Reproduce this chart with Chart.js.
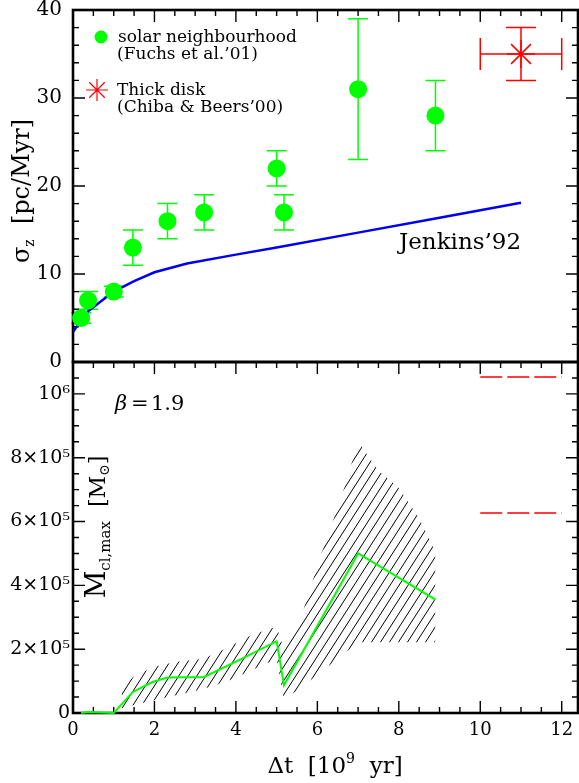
<!DOCTYPE html>
<html lang="en">
<head>
  <meta charset="utf-8" />
  <title>sigma_z and M_cl,max vs age</title>
  <style>
    body { margin: 0; background: #fff; }
    #wrap { position: relative; width: 579px; height: 783px; overflow: hidden; }
    #wrap canvas { position: absolute; left: 0; }
    #top { top: -8px; }
    #bottom { top: 352px; }
  </style>
</head>
<body>
  <div id="wrap">
    <canvas id="top" width="579" height="388"></canvas>
    <canvas id="bottom" width="579" height="431"></canvas>
  </div>

  <script src="https://cdn.jsdelivr.net/npm/chart.js"></script>

  <script>
    // top panel: vertical velocity dispersion vs age
    const solarAge = [0.2, 0.37, 1.0, 1.47, 2.32, 3.22, 5.0, 5.18, 7.0, 8.9];
    const solarSigma = [5, 7, 8, 13, 16, 17, 22, 17, 31, 28];
    const solarSigmaErr = [0.6, 1, 0.6, 2, 2, 2, 2, 2, 8, 4];

    const thickAge = [11];
    const thickSigma = [35];
    const thickAgeErr = [1];
    const thickSigmaErr = [3];

    const jenkinsAge = [0, 0.3, 0.6, 1.0, 1.5, 2.0, 2.8, 4.0, 5.0, 7.0, 9.0, 11.0];
    const jenkinsSigma = [3.4, 5.5, 6.6, 8.0, 9.2, 10.2, 11.2, 12.2, 13.0, 14.7, 16.4, 18.1];

    // bottom panel: maximum cluster mass vs age
    const massAge = [0.2, 0.37, 1.0, 1.47, 1.95, 2.32, 3.22, 4.1, 5.0, 5.18, 7.0, 8.9];
    const massMax = [0, 3e3, 0, 6.6e4, 9.7e4, 1.11e5, 1.13e5, 1.67e5, 2.25e5, 8.7e4, 5.0e5, 3.55e5];

    const bandAge  = [1.2, 1.5, 2.0, 2.5, 3.2, 3.8, 4.4, 5.0, 5.18, 5.6, 6.1, 6.6, 7.0, 7.5, 8.0, 8.5, 8.9];
    const bandLow  = [1.5e4, 2.5e4, 4e4, 5.5e4, 7.5e4, 1.0e5, 1.35e5, 1.7e5, 4e4, 8e4, 1.29e5, 1.8e5, 2.22e5, 2.22e5, 2.22e5, 2.22e5, 2.22e5];
    const bandHigh = [8e4, 1.15e5, 1.45e5, 1.6e5, 1.7e5, 2.05e5, 2.45e5, 2.7e5, 2.0e5, 3.0e5, 5.0e5, 6.8e5, 8.5e5, 7.6e5, 7.05e5, 6.1e5, 5.05e5];

    const limitAge = [10, 12];
    const limitMass = [1.053e6, 6.27e5];

    const GREEN = '#00ff00';
    const RED = '#ff0000';
    const BLUE = '#0000ee';
    const FONT = '"DejaVu Serif", serif';
    const TOP_SHIFT = 8; // top canvas sits 8px above the page

    const pts = (xs, ys) => xs.map((v, i) => ({ x: v, y: ys[i] }));
    const isMajor = (v, step) => Math.abs(v / step - Math.round(v / step)) < 1e-6;

    // draw a row of text pieces centred on cx, optionally rotated for y titles
    function richText(ctx, parts, cx, cy, rotate) {
      ctx.save();
      ctx.translate(cx, cy);
      if (rotate) ctx.rotate(-Math.PI / 2);
      ctx.fillStyle = '#000';
      ctx.textBaseline = 'alphabetic';
      const fontOf = p => (p.italic ? 'italic ' : '') + p.size + 'px ' + FONT;
      let total = 0;
      const widths = parts.map(p => {
        ctx.font = fontOf(p);
        const w = ctx.measureText(p.t).width;
        total += w;
        return w;
      });
      let x = -total / 2;
      parts.forEach((p, i) => {
        ctx.font = fontOf(p);
        ctx.fillText(p.t, x, p.dy || 0);
        x += widths[i];
      });
      ctx.restore();
    }

    function drawStar(ctx, x, y, r, color, lw) {
      ctx.save();
      ctx.strokeStyle = color;
      ctx.lineWidth = lw;
      ctx.beginPath();
      for (let k = 0; k < 4; k++) {
        const a = k * Math.PI / 4;
        ctx.moveTo(x - Math.cos(a) * r, y - Math.sin(a) * r);
        ctx.lineTo(x + Math.cos(a) * r, y + Math.sin(a) * r);
      }
      ctx.stroke();
      ctx.restore();
    }

    // inward ticks on every side + heavy frame (under the data)
    const frameTicks = {
      id: 'frameTicks',
      beforeDatasetsDraw(chart, args, opts) {
        const { ctx, chartArea: a, scales: { x, y } } = chart;
        ctx.save();
        ctx.strokeStyle = '#000';
        ctx.lineWidth = 1.4;
        ctx.beginPath();
        for (const t of x.ticks) {
          const px = x.getPixelForValue(t.value);
          const len = isMajor(t.value, 2) ? 12 : 6;
          ctx.moveTo(px, a.top); ctx.lineTo(px, a.top + len);
          if (opts.xBottom) { ctx.moveTo(px, a.bottom); ctx.lineTo(px, a.bottom - len); }
        }
        for (const t of y.ticks) {
          const py = y.getPixelForValue(t.value);
          const len = isMajor(t.value, opts.yMajor) ? 12 : 6;
          ctx.moveTo(a.left, py); ctx.lineTo(a.left + len, py);
          ctx.moveTo(a.right, py); ctx.lineTo(a.right - len, py);
        }
        ctx.stroke();
        ctx.lineWidth = 2.6;
        ctx.strokeRect(a.left, a.top, a.right - a.left, a.bottom - a.top);
        ctx.restore();
      }
    };

    // error bars for the top panel
    const errorBars = {
      id: 'errorBars',
      beforeDatasetsDraw(chart) {
        const { ctx, scales: { x, y } } = chart;
        ctx.save();
        ctx.lineWidth = 1.5;
        ctx.strokeStyle = GREEN;
        ctx.beginPath();
        solarAge.forEach((a, i) => {
          const px = x.getPixelForValue(a);
          const lo = y.getPixelForValue(solarSigma[i] - solarSigmaErr[i]);
          const hi = y.getPixelForValue(solarSigma[i] + solarSigmaErr[i]);
          ctx.moveTo(px, lo); ctx.lineTo(px, hi);
          ctx.moveTo(px - 10, lo); ctx.lineTo(px + 10, lo);
          ctx.moveTo(px - 10, hi); ctx.lineTo(px + 10, hi);
        });
        ctx.stroke();
        ctx.strokeStyle = RED;
        ctx.beginPath();
        thickAge.forEach((a, i) => {
          const px = x.getPixelForValue(a);
          const py = y.getPixelForValue(thickSigma[i]);
          const l = x.getPixelForValue(a - thickAgeErr[i]);
          const r = x.getPixelForValue(a + thickAgeErr[i]);
          const lo = y.getPixelForValue(thickSigma[i] - thickSigmaErr[i]);
          const hi = y.getPixelForValue(thickSigma[i] + thickSigmaErr[i]);
          ctx.moveTo(l, py); ctx.lineTo(r, py);
          ctx.moveTo(l, py - 16); ctx.lineTo(l, py + 16);
          ctx.moveTo(r, py - 16); ctx.lineTo(r, py + 16);
          ctx.moveTo(px, lo); ctx.lineTo(px, hi);
          ctx.moveTo(px - 15, lo); ctx.lineTo(px + 15, lo);
          ctx.moveTo(px - 15, hi); ctx.lineTo(px + 15, hi);
        });
        ctx.stroke();
        ctx.restore();
      }
    };

    const topNotes = {
      id: 'topNotes',
      afterDraw(chart) {
        const ctx = chart.ctx;
        ctx.save();
        ctx.translate(0, TOP_SHIFT);
        ctx.fillStyle = GREEN;
        ctx.beginPath(); ctx.arc(101, 37, 6.5, 0, Math.PI * 2); ctx.fill();
        drawStar(ctx, 97, 90, 11, RED, 1.2);
        ctx.fillStyle = '#000';
        ctx.font = '17px ' + FONT;
        ctx.fillText('solar neighbourhood', 118, 42);
        ctx.fillText('(Fuchs et al.’01)', 117, 59);
        ctx.fillText('Thick disk', 117, 95);
        ctx.fillText('(Chiba & Beers’00)', 117, 112);
        ctx.font = '23px ' + FONT;
        ctx.fillText('Jenkins’92', 399, 249);
        richText(ctx, [
          { t: 'σ', size: 24 },
          { t: 'z', size: 14, dy: 5 },
          { t: '  [pc/Myr]', size: 24 }
        ], 29, 191, true);
        ctx.restore();
      }
    };

    const bottomNotes = {
      id: 'bottomNotes',
      afterDraw(chart) {
        const ctx = chart.ctx;
        ctx.save();
        ctx.fillStyle = '#000';
        ctx.font = 'italic 21px ' + FONT;
        ctx.fillText('β', 115, 58);
        ctx.font = '21px ' + FONT;
        ctx.fillText('=', 131, 58);
        ctx.fillText('1.9', 151, 58);
        ctx.restore();
        richText(ctx, [
          { t: 'M', size: 27 },
          { t: 'cl,max', size: 15, dy: 5 },
          { t: '  [M', size: 22 },
          { t: '⊙', size: 14, dy: 4 },
          { t: ']', size: 22 }
        ], 105, 175, true);
        richText(ctx, [
          { t: 'Δt', size: 23 },
          { t: '  [10', size: 23 },
          { t: '9', size: 14, dy: -10 },
          { t: '  yr]', size: 23 }
        ], 335, 421, false);
      }
    };

    function hatchPattern(ctx) {
      const c = document.createElement('canvas');
      c.width = 9; c.height = 14;
      const g = c.getContext('2d');
      g.strokeStyle = '#000';
      g.lineWidth = 1;
      g.beginPath();
      g.moveTo(-9, 14); g.lineTo(0, 0);
      g.moveTo(0, 14); g.lineTo(9, 0);
      g.moveTo(9, 14); g.lineTo(18, 0);
      g.stroke();
      return ctx.createPattern(c, 'repeat');
    }

    const xAxisBase = {
      type: 'linear',
      min: 0,
      max: 12.4,
      grid: { display: false },
      border: { display: false },
      ticks: { stepSize: 0.5, includeBounds: false, autoSkip: false, maxRotation: 0 }
    };

    // top panel
    new Chart(document.getElementById('top'), {
      type: 'scatter',
      data: {
        datasets: [
          {
            label: 'solar neighbourhood (Fuchs et al.’01)',
            data: pts(solarAge, solarSigma),
            pointRadius: 9,
            backgroundColor: GREEN,
            borderWidth: 0,
            clip: false
          },
          {
            label: 'Thick disk (Chiba & Beers’00)',
            data: pts(thickAge, thickSigma),
            pointStyle: 'star',
            pointRadius: 14,
            borderColor: RED,
            borderWidth: 1.5,
            clip: false
          },
          {
            label: 'Jenkins’92',
            data: pts(jenkinsAge, jenkinsSigma),
            showLine: true,
            borderColor: BLUE,
            borderWidth: 2.5,
            pointRadius: 0
          }
        ]
      },
      options: {
        responsive: false,
        animation: false,
        layout: { autoPadding: false, padding: { top: 18, right: 1, bottom: 18, left: 0 } },
        plugins: {
          legend: { display: false },
          tooltip: { enabled: false },
          frameTicks: { xBottom: false, yMajor: 10 }
        },
        scales: {
          x: Object.assign({}, xAxisBase, {
            ticks: Object.assign({}, xAxisBase.ticks, { display: false }),
            afterFit: s => { s.height = 0; }
          }),
          y: {
            min: 0,
            max: 40,
            grid: { display: false, drawTicks: false },
            border: { display: false },
            ticks: {
              stepSize: 2,
              autoSkip: false,
              padding: 11,
              color: '#000',
              font: { family: FONT, size: 20, lineHeight: 0.7 },
              callback: v => isMajor(v, 10) ? String(v) : ''
            },
            afterFit: s => { s.width = 73; }
          }
        }
      },
      plugins: [errorBars, frameTicks, topNotes]
    });

    // bottom panel
    const bottomCanvas = document.getElementById('bottom');
    const hatch = hatchPattern(bottomCanvas.getContext('2d'));
    const supLabel = { 200000: '2×10⁵', 400000: '4×10⁵', 600000: '6×10⁵', 800000: '8×10⁵', 1000000: '10⁶' };

    new Chart(bottomCanvas, {
      type: 'scatter',
      data: {
        datasets: [
          {
            label: 'M_cl,max',
            data: pts(massAge, massMax),
            showLine: true,
            borderColor: GREEN,
            borderWidth: 2,
            pointRadius: 0,
            clip: false
          },
          {
            label: 'range low',
            data: pts(bandAge, bandLow),
            showLine: true,
            borderColor: 'rgba(0,0,0,0)',
            borderWidth: 1,
            pointRadius: 0,
            fill: false
          },
          {
            label: 'range high',
            data: pts(bandAge, bandHigh),
            showLine: true,
            borderColor: 'rgba(0,0,0,0)',
            borderWidth: 1,
            pointRadius: 0,
            backgroundColor: hatch,
            fill: '-1'
          },
          {
            label: 'limit upper',
            data: limitAge.map(a => ({ x: a, y: limitMass[0] })),
            showLine: true,
            borderColor: RED,
            borderWidth: 1.5,
            borderDash: [22, 5],
            pointRadius: 0
          },
          {
            label: 'limit lower',
            data: limitAge.map(a => ({ x: a, y: limitMass[1] })),
            showLine: true,
            borderColor: RED,
            borderWidth: 1.5,
            borderDash: [22, 5],
            pointRadius: 0
          }
        ]
      },
      options: {
        responsive: false,
        animation: false,
        layout: { autoPadding: false, padding: { top: 10, right: 1, bottom: 0, left: 0 } },
        plugins: {
          legend: { display: false },
          tooltip: { enabled: false },
          frameTicks: { xBottom: true, yMajor: 200000 }
        },
        scales: {
          x: Object.assign({}, xAxisBase, {
            grid: { display: false, drawTicks: true, tickLength: 7 },
            ticks: Object.assign({}, xAxisBase.ticks, {
              padding: 4,
              color: '#000',
              font: { family: FONT, size: 18, lineHeight: 0.7 },
              callback: v => isMajor(v, 2) ? String(v) : ''
            }),
            afterFit: s => { s.height = 70; }
          }),
          y: {
            min: 0,
            max: 1100000,
            grid: { display: false, drawTicks: false },
            border: { display: false },
            ticks: {
              stepSize: 50000,
              autoSkip: false,
              padding: 3,
              color: '#000',
              font: { family: FONT, size: 19, lineHeight: 0.7 },
              callback: v => v === 0 ? '0' : (supLabel[Math.round(v)] || '')
            },
            afterFit: s => { s.width = 73; }
          }
        }
      },
      plugins: [frameTicks, bottomNotes]
    });
  </script>
</body>
</html>
